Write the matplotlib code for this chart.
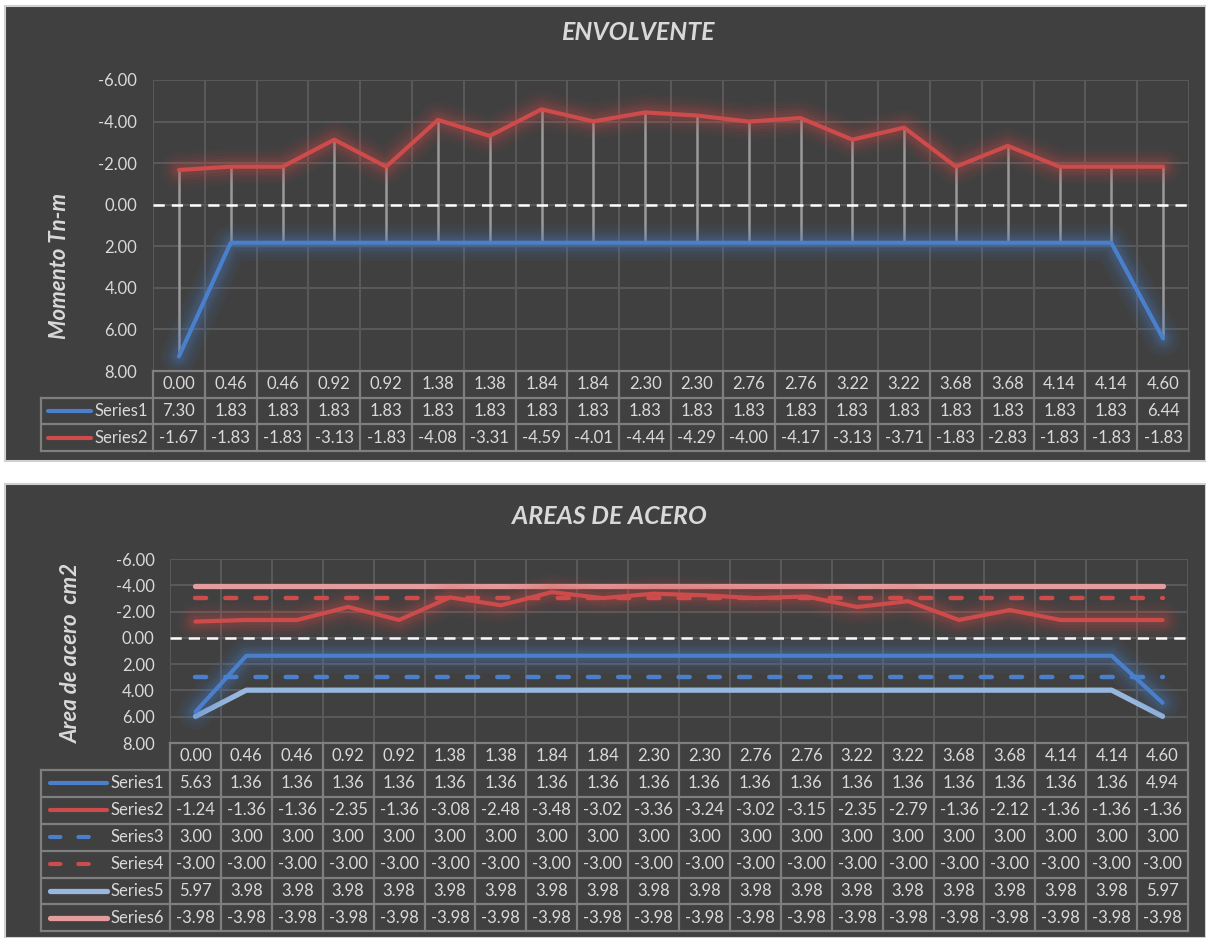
import matplotlib
matplotlib.use("Agg")
import matplotlib.pyplot as plt
from matplotlib.patches import Rectangle
from matplotlib.lines import Line2D
from matplotlib import transforms

plt.rcParams['font.family'] = ['Lato', 'DejaVu Sans']

# ---------------------------------------------------------------- data
x_labels = ["0.00", "0.46", "0.46", "0.92", "0.92", "1.38", "1.38", "1.84",
            "1.84", "2.30", "2.30", "2.76", "2.76", "3.22", "3.22", "3.68",
            "3.68", "4.14", "4.14", "4.60"]

# Envolvente de momentos (Tn-m)
mom_series1 = [7.30, 1.83, 1.83, 1.83, 1.83, 1.83, 1.83, 1.83, 1.83, 1.83,
               1.83, 1.83, 1.83, 1.83, 1.83, 1.83, 1.83, 1.83, 1.83, 6.44]
mom_series2 = [-1.67, -1.83, -1.83, -3.13, -1.83, -4.08, -3.31, -4.59, -4.01, -4.44,
               -4.29, -4.00, -4.17, -3.13, -3.71, -1.83, -2.83, -1.83, -1.83, -1.83]

# Areas de acero (cm2)
area_series1 = [5.63, 1.36, 1.36, 1.36, 1.36, 1.36, 1.36, 1.36, 1.36, 1.36,
                1.36, 1.36, 1.36, 1.36, 1.36, 1.36, 1.36, 1.36, 1.36, 4.94]
area_series2 = [-1.24, -1.36, -1.36, -2.35, -1.36, -3.08, -2.48, -3.48, -3.02, -3.36,
                -3.24, -3.02, -3.15, -2.35, -2.79, -1.36, -2.12, -1.36, -1.36, -1.36]
area_series3 = [3.00, 3.00, 3.00, 3.00, 3.00, 3.00, 3.00, 3.00, 3.00, 3.00,
                3.00, 3.00, 3.00, 3.00, 3.00, 3.00, 3.00, 3.00, 3.00, 3.00]
area_series4 = [-3.00, -3.00, -3.00, -3.00, -3.00, -3.00, -3.00, -3.00, -3.00, -3.00,
                -3.00, -3.00, -3.00, -3.00, -3.00, -3.00, -3.00, -3.00, -3.00, -3.00]
area_series5 = [5.97, 3.98, 3.98, 3.98, 3.98, 3.98, 3.98, 3.98, 3.98, 3.98,
                3.98, 3.98, 3.98, 3.98, 3.98, 3.98, 3.98, 3.98, 3.98, 5.97]
area_series6 = [-3.98, -3.98, -3.98, -3.98, -3.98, -3.98, -3.98, -3.98, -3.98, -3.98,
                -3.98, -3.98, -3.98, -3.98, -3.98, -3.98, -3.98, -3.98, -3.98, -3.98]

y_ticks = [-6, -4, -2, 0, 2, 4, 6, 8]

# ---------------------------------------------------------------- style
W, H = 1206, 938
BG = '#404040'
GRID = '#5a5a5a'
BORDER = '#7f7f7f'
TXT = '#d9d9d9'
BLUE = '#4a80cb'
RED = '#cd4b4b'
LBLUE = '#97b7df'
LRED = '#e59c9c'
FS = 12
DASH = (2.5, 4.3)

fig = plt.figure(figsize=(W / 100, H / 100), dpi=100, facecolor='white')


def fx(px):
    return px / W


def fy(py):
    return 1 - py / H


def panel(top, bottom):
    fig.patches.append(Rectangle((fx(5), fy(bottom)), fx(W - 5), (bottom - top) / H,
                                 transform=fig.transFigure, facecolor=BG,
                                 edgecolor='#d0d0d0', lw=1.5, zorder=-10))


def make_axes(left, right, top, bottom, tick_pad):
    ax = fig.add_axes([fx(left), fy(bottom), fx(right - left), (bottom - top) / H])
    ax.set_zorder(1)
    ax.set_facecolor('none')
    for s in ax.spines.values():
        s.set_visible(False)
    ax.set_xlim(-0.5, len(x_labels) - 0.5)
    ax.set_ylim(8, -6)
    ax.set_xticks([])
    ax.set_yticks(y_ticks)
    ax.set_yticklabels([f"{v:.2f}" for v in y_ticks])
    ax.tick_params(axis='y', length=0, pad=tick_pad, labelsize=FS, labelcolor=TXT)
    for v in y_ticks:
        ax.axhline(v, color=GRID, lw=1.4, zorder=1)
    for i in range(len(x_labels) + 1):
        ax.axvline(i - 0.5, color=GRID, lw=1.4, zorder=1)
    # horizontal category axis crossing at zero
    ax.axhline(0, color='white', lw=1.8, dashes=(4.5, 2.8), zorder=3)
    return ax


def glow_line(ax, xs, ys, color, lw):
    for w, a in [(26, 0.05), (21, 0.06), (16, 0.08), (12, 0.10), (8, 0.12)]:
        ax.plot(xs, ys, color=color, lw=w, alpha=a, solid_joinstyle='round',
                solid_capstyle='round', zorder=4)
    ax.plot(xs, ys, color=color, lw=lw, solid_joinstyle='round',
            solid_capstyle='round', zorder=5)


def data_table(ax, rows, top, row_h, legend_left, text_right, sample_x0, sample_x1):
    n = len(x_labels)
    tr = transforms.blended_transform_factory(ax.transData, fig.transFigure)
    nrows = len(rows) + 1
    bottom = top + nrows * row_h
    plot_left_px = ax.get_position().x0 * W
    kw = dict(color=BORDER, lw=1.6, zorder=6, clip_on=False)
    # data column borders
    for i in range(n + 1):
        fig.add_artist(Line2D([i - 0.5, i - 0.5], [fy(top), fy(bottom)], transform=tr, **kw))
    # horizontal borders over data columns
    for r in range(nrows + 1):
        fig.add_artist(Line2D([-0.5, n - 0.5], [fy(top + r * row_h)] * 2, transform=tr, **kw))
    # legend column borders
    for r in range(1, nrows + 1):
        fig.add_artist(Line2D([fx(legend_left), fx(plot_left_px)], [fy(top + r * row_h)] * 2,
                              transform=fig.transFigure, **kw))
    fig.add_artist(Line2D([fx(legend_left)] * 2, [fy(top + row_h), fy(bottom)],
                          transform=fig.transFigure, **kw))
    # header (category labels)
    yc = top + row_h / 2
    for i, lab in enumerate(x_labels):
        fig.text(i, fy(yc), lab, transform=tr, ha='center', va='center',
                 fontsize=FS, color=TXT)
    # series rows
    for r, (name, vals, color, lw, dashed) in enumerate(rows):
        yc = top + (r + 1.5) * row_h
        line_kw = dict(color=color, lw=lw, solid_capstyle='round', dash_capstyle='round')
        x1 = sample_x1
        if dashed:
            line_kw['dashes'] = DASH
            x1 = sample_x0 + 43
        fig.add_artist(Line2D([fx(sample_x0), fx(x1)], [fy(yc)] * 2,
                              transform=fig.transFigure, **line_kw))
        fig.text(fx(text_right), fy(yc), name, ha='right', va='center',
                 fontsize=FS, color=TXT)
        for i, v in enumerate(vals):
            fig.text(i, fy(yc), f"{v:.2f}", transform=tr, ha='center', va='center',
                     fontsize=FS, color=TXT)


# ================================================================ ENVOLVENTE
panel(6, 461)
ax1 = make_axes(153, 1189, 80, 371, 11.5)
xs = list(range(len(x_labels)))
ax1.vlines(xs, mom_series2, mom_series1, color='#9a9a9a', lw=1.8, zorder=2)
glow_line(ax1, xs, mom_series1, BLUE, 3.0)
glow_line(ax1, xs, mom_series2, RED, 3.0)
fig.text(fx(638), fy(33), "ENVOLVENTE", ha='center', va='center', fontsize=18,
         fontweight='bold', style='italic', color=TXT)
fig.text(fx(60), fy(266), "Momento Tn-m", ha='center', va='center', rotation=90,
         fontsize=16, fontweight='bold', style='italic', color=TXT)
data_table(ax1, [("Series1", mom_series1, BLUE, 3.0, False),
                 ("Series2", mom_series2, RED, 3.0, False)],
           371, 26.7, 41, 148, 48, 91)

# ================================================================ AREAS DE ACERO
panel(484, 938)
ax2 = make_axes(170, 1188, 559, 743, 11)
ax2.plot(xs, area_series5, color=LBLUE, lw=3.8, solid_capstyle='round', zorder=4)
ax2.plot(xs, area_series6, color=LRED, lw=3.8, solid_capstyle='round', zorder=4)
ax2.plot(xs, area_series3, color=BLUE, lw=3.2, dashes=DASH,
         dash_capstyle='round', zorder=4)
ax2.plot(xs, area_series4, color=RED, lw=3.2, dashes=DASH,
         dash_capstyle='round', zorder=4)
glow_line(ax2, xs, area_series1, BLUE, 3.0)
glow_line(ax2, xs, area_series2, RED, 3.0)
fig.text(fx(609), fy(517), "AREAS DE ACERO", ha='center', va='center', fontsize=18,
         fontweight='bold', style='italic', color=TXT)
fig.text(fx(71), fy(653), "Area de acero  cm2", ha='center', va='center', rotation=90,
         fontsize=16, fontweight='bold', style='italic', color=TXT)
data_table(ax2, [("Series1", area_series1, BLUE, 3.0, False),
                 ("Series2", area_series2, RED, 3.0, False),
                 ("Series3", area_series3, BLUE, 3.0, True),
                 ("Series4", area_series4, RED, 3.0, True),
                 ("Series5", area_series5, LBLUE, 3.8, False),
                 ("Series6", area_series6, LRED, 3.8, False)],
           743, 26.9, 41, 164, 50, 107)

fig.savefig("out.png", dpi=100, facecolor='white')
